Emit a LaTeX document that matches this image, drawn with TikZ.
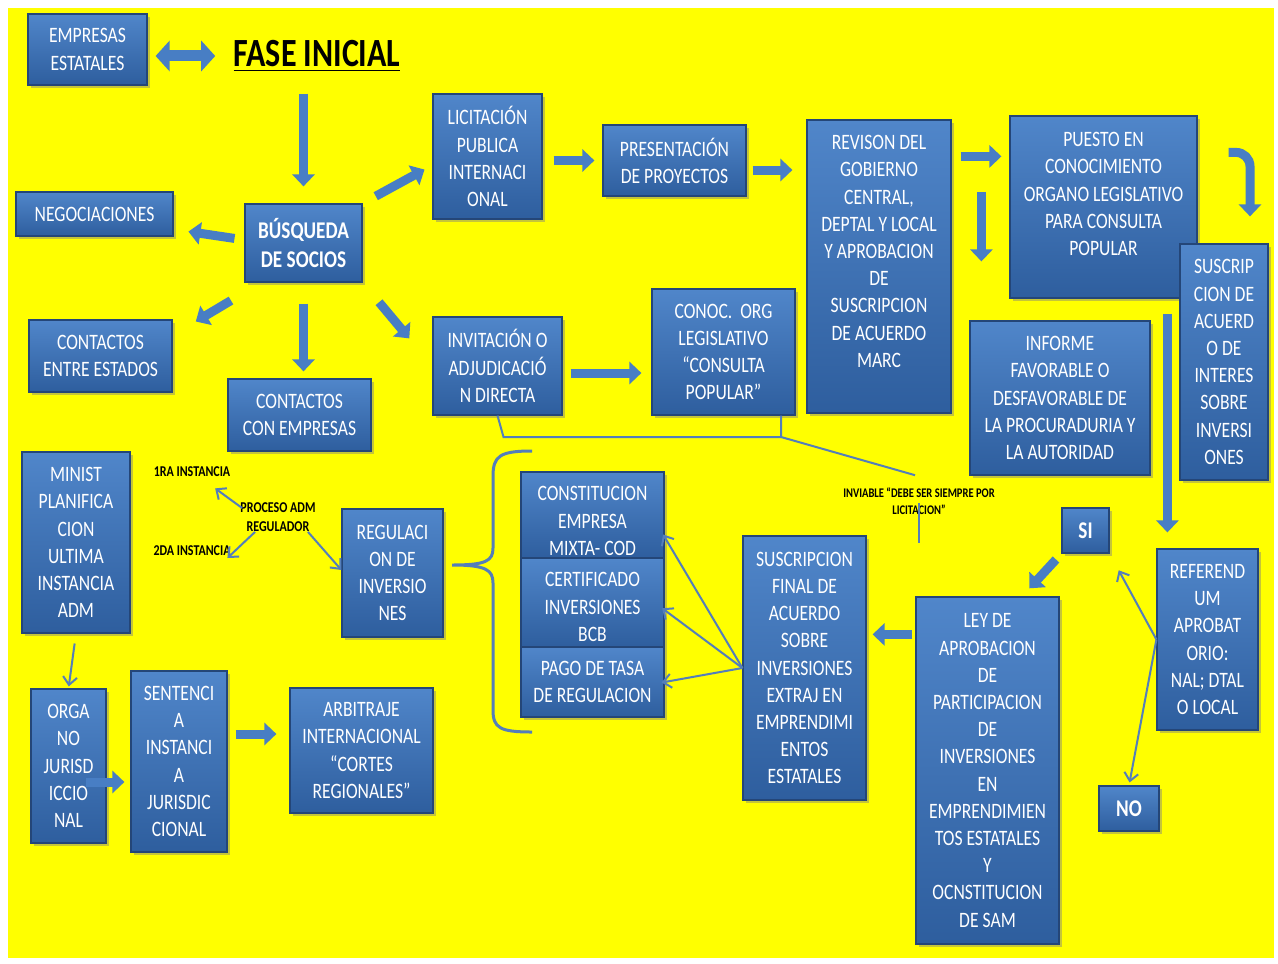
\documentclass[tikz,border=0pt]{standalone}
\usepackage{fontspec}
\setmainfont{Carlito}[FakeStretch=0.8]
\usepackage{xcolor}
\usepackage{tikz}
\usetikzlibrary{arrows.meta,shadows}

\definecolor{bgyellow}{RGB}{255,255,0}
\definecolor{boxtop}{RGB}{80,134,202}
\definecolor{boxbot}{RGB}{46,94,158}
\definecolor{boxedge}{RGB}{36,70,120}
\definecolor{arrowblue}{RGB}{72,126,196}
\definecolor{linkblue}{RGB}{84,126,186}

\newcommand{\boxfont}{\fontsize{11}{13.6}\selectfont}
\newcommand{\notefont}{\fontsize{7.5}{9.5}\selectfont\bfseries}

\begin{document}
\begin{tikzpicture}[x=0.5pt,y=-0.5pt,
  mybox/.style={draw=boxedge,line width=0.6pt,top color=boxtop,bottom color=boxbot,
    text=white,align=center,inner sep=0pt,font=\boxfont,
    drop shadow={opacity=0.45,shadow xshift=1.5pt,shadow yshift=-1.5pt}},
  boxtext/.style={text=white,align=center,inner sep=0pt,font=\boxfont},
  note/.style={text=black,align=center,inner sep=0pt,font=\notefont},
  bigarrow/.style={draw=arrowblue,line width=4.5pt,-{Triangle[length=6pt,width=11pt]}},
  thinarrow/.style={draw=linkblue,line width=1pt,-{Straight Barb[length=4pt,width=7pt]}},
  thinline/.style={draw=linkblue,line width=1pt}]

        %background
        \useasboundingbox (0,0) rectangle (1278,963);
        \fill[white] (0,0) rectangle (1278,963);
        \fill[bgyellow] (8,8) rectangle (1274,958);

        %title and first row
        \node[mybox,minimum width=59.5pt,minimum height=35.5pt] (emp) at (87.5,49.5) {EMPRESAS\\ESTATALES};
        \node[font=\fontsize{20}{24}\selectfont\bfseries,inner sep=0pt] (fase) at (317,56) {\underline{FASE INICIAL}};
        \node[mybox,font=\fontsize{12}{14.5}\selectfont\bfseries,minimum width=58.5pt,minimum height=39pt] (busq) at (303.5,243) {BÚSQUEDA\\DE SOCIOS};
        \node[mybox,minimum width=78.5pt,minimum height=22pt] (neg) at (94.5,214) {NEGOCIACIONES};
        \node[mybox,minimum width=71.5pt,minimum height=36pt] (ent) at (100.5,356) {CONTACTOS\\ENTRE ESTADOS};
        \node[mybox,minimum width=71.5pt,minimum height=36pt] (conemp) at (299.5,415) {CONTACTOS\\CON EMPRESAS};

        %licitacion branch
        \node[mybox,minimum width=54.5pt,minimum height=62.5pt] (lic) at (487.5,156.5) {LICITACIÓN\\PUBLICA\\INTERNACI\\ONAL};
        \node[mybox,minimum width=71.5pt,minimum height=35.5pt] (pres) at (674.5,160.5) {PRESENTACIÓN\\DE PROYECTOS};
        \node[mybox,minimum width=72pt,minimum height=146.5pt] (rev) at (879,266.5) {};
        \node[boxtext] (revtxt) at (879,251.5) {REVISON DEL\\GOBIERNO\\CENTRAL,\\DEPTAL Y LOCAL\\Y APROBACION\\DE\\SUSCRIPCION\\DE ACUERDO\\MARC};
        \node[mybox,minimum width=93.5pt,minimum height=91pt] (pue) at (1103.5,207) {};
        \node[boxtext] (puetxt) at (1103.5,194) {PUESTO EN\\CONOCIMIENTO\\ORGANO LEGISLATIVO\\PARA CONSULTA\\POPULAR};
        \node[mybox,minimum width=44pt,minimum height=118pt] (sus) at (1224,362) {SUSCRIP\\CION DE\\ACUERD\\O DE\\INTERES\\SOBRE\\INVERSI\\ONES};
        \node[mybox,minimum width=90pt,minimum height=77pt] (inf) at (1060,398) {INFORME\\FAVORABLE O\\DESFAVORABLE DE\\LA PROCURADURIA Y\\LA AUTORIDAD};

        %invitacion branch
        \node[mybox,minimum width=64.5pt,minimum height=49pt] (inv) at (497.5,366) {INVITACIÓN O\\ADJUDICACIÓ\\N DIRECTA};
        \node[mybox,minimum width=71.5pt,minimum height=63pt] (con) at (723.5,352) {CONOC.~~ORG\\LEGISLATIVO\\“CONSULTA\\POPULAR”};

        %referendum
        \node[mybox,minimum width=50.5pt,minimum height=90.5pt] (ref) at (1207.5,639.5) {REFEREND\\UM\\APROBAT\\ORIO:\\NAL; DTAL\\O LOCAL};
        \node[mybox,font=\fontsize{12}{14.5}\selectfont\bfseries,minimum width=23.5pt,minimum height=22.5pt] (si) at (1085.5,530.5) {SI};
        \node[mybox,font=\fontsize{12}{14.5}\selectfont\bfseries,minimum width=30pt,minimum height=22.5pt] (no) at (1129,808.5) {NO};
        \node[mybox,minimum width=71.5pt,minimum height=173.5pt] (ley) at (987.5,770.5) {LEY DE\\APROBACION\\DE\\PARTICIPACION\\DE\\INVERSIONES\\EN\\EMPRENDIMIEN\\TOS ESTATALES\\Y\\OCNSTITUCION\\DE SAM};
        \node[mybox,minimum width=61.5pt,minimum height=132pt] (fin) at (804.5,668) {SUSCRIPCION\\FINAL DE\\ACUERDO\\SOBRE\\INVERSIONES\\EXTRAJ EN\\EMPRENDIMI\\ENTOS\\ESTATALES};

        %stack
        \node[mybox,minimum width=71.5pt,minimum height=43pt] (cons) at (592.5,515) {};
        \node[boxtext] (constxt) at (592.5,521) {CONSTITUCION\\EMPRESA\\MIXTA- COD};
        \node[mybox,minimum width=71.5pt,minimum height=44.5pt] (cert) at (592.5,602.5) {};
        \node[boxtext] (certtxt) at (592.5,607) {CERTIFICADO\\INVERSIONES\\BCB};
        \node[mybox,minimum width=71.5pt,minimum height=35pt] (pago) at (592.5,682) {PAGO DE TASA\\DE REGULACION};
        \node[mybox,minimum width=50.5pt,minimum height=64pt] (reg) at (392.5,573) {REGULACI\\ON DE\\INVERSIO\\NES};

        %lower left
        \node[mybox,minimum width=54pt,minimum height=90.5pt] (min) at (76,542.5) {MINIST\\PLANIFICA\\CION\\ULTIMA\\INSTANCIA\\ADM};
        \node[mybox,minimum width=37.5pt,minimum height=77pt] (org) at (68.5,766) {ORGA\\NO\\JURISD\\ICCIO\\NAL};
        \node[mybox,minimum width=48pt,minimum height=90.5pt] (sen) at (179,761.5) {SENTENCI\\A\\INSTANCI\\A\\JURISDIC\\CIONAL};
        \node[mybox,minimum width=71.5pt,minimum height=62.5pt] (arb) at (361.5,750.5) {ARBITRAJE\\INTERNACIONAL\\“CORTES\\REGIONALES”};

        %notes
        \node[note] (ins1) at (192,472) {1RA INSTANCIA};
        \node[note] (ins2) at (192,551) {2DA INSTANCIA};
        \node[note] (proc) at (278,517) {PROCESO ADM\\REGULADOR};
        \node[note,font=\fontsize{6.6}{8.5}\selectfont\bfseries] (via) at (919,501) {INVIABLE “DEBE SER SIEMPRE POR\\LICITACION”};

        %block arrows
        \draw[bigarrow,line width=5.5pt,{Triangle[length=7pt,width=15pt]}-{Triangle[length=7pt,width=15pt]},shorten <=4pt,shorten >=9pt] (emp.east |- fase.west) -- (fase.west);
        \draw[bigarrow,shorten <=11pt,shorten >=8.5pt] (busq.north |- fase.south) -- (busq.north);
        \draw[bigarrow,shorten <=5pt,shorten >=7.5pt] (busq.177) -- (neg.-11);
        \draw[bigarrow,shorten <=7.5pt,shorten >=4.5pt] (busq.north east) -- (lic.189);
        \draw[bigarrow,shorten <=17.5pt,shorten >=13.5pt] (busq.223) -- (ent.16);
        \draw[bigarrow,shorten <=10.5pt,shorten >=3.5pt] (busq.south) -- (busq.south |- conemp.north);
        \draw[bigarrow,shorten <=12.8pt,shorten >=18pt] (busq.south east) -- (inv.west);
        \draw[bigarrow,shorten <=5.5pt,shorten >=4pt] (lic.east |- pres.west) -- (pres.west);
        \draw[bigarrow,shorten <=3pt,shorten >=7pt] ([yshift=-4.75pt]pres.east) -- ([yshift=-4.75pt]pres.east -| rev.west);
        \draw[bigarrow,shorten <=4.5pt,shorten >=4pt] ([yshift=-18.5pt]rev.north east) -- ([yshift=-18.5pt]rev.north east -| pue.west);
        \draw[bigarrow,shorten >=29.5pt] ([xshift=6pt,yshift=64pt]inf.north west) -- ([xshift=6pt]inf.north west);
        \draw[bigarrow,rounded corners=7pt,shorten >=13.5pt] ([xshift=15.5pt,yshift=-18.5pt]pue.north east) -| ([xshift=13pt]sus.north);
        \draw[bigarrow,shorten <=7.5pt,shorten >=8pt] ([xshift=5.5pt]ref.north west |- pue.south) -- ([xshift=5.5pt]ref.north west);
        \draw[bigarrow,shorten <=4pt,shorten >=5.5pt] (si.south west) -- ([xshift=17.25pt]ley.north);
        \draw[bigarrow,shorten <=1.5pt,shorten >=3pt] ([yshift=-19pt]ley.north west) -- ([yshift=-19pt]ley.north west -| fin.east);
        \draw[bigarrow,shorten <=4pt,shorten >=5pt] ([yshift=-3.5pt]inv.east) -- ([yshift=-3.5pt]inv.east -| con.west);
        \draw[bigarrow,shorten <=-10.5pt,shorten >=3pt] ([yshift=-8pt]org.east) -- ([yshift=-8pt]org.east -| sen.west);
        \draw[bigarrow,shorten <=4pt,shorten >=6.5pt] ([yshift=13.75pt]sen.east) -- ([yshift=13.75pt]sen.east -| arb.west);

        %thin arrows
        \draw[thinarrow,shorten >=9.5pt] (ref.west) -- (si.south east);
        \draw[thinarrow,shorten >=1.5pt] (ref.west) -- (no.north);
        \draw[thinarrow,shorten >=-1.5pt] (fin.west) -- (cons.-17);
        \draw[thinarrow,shorten >=-1.5pt] (fin.west) -- (cert.-6);
        \draw[thinarrow,shorten >=-1.5pt] (fin.west) -- (pago.east);
        \draw[thinarrow,shorten <=5pt,shorten >=1pt] (min.south) -- (org.north);
        \draw[thinarrow] ([xshift=1pt,yshift=4.5pt]proc.west) -- ([xshift=-7.75pt,yshift=-5.5pt]ins1.south east);
        \draw[thinarrow] ([xshift=7.5pt]proc.south west) -- ([xshift=-1.75pt,yshift=-3.5pt]ins2.east);
        \draw[thinarrow] ([xshift=-4pt]proc.south east) -- ([yshift=1.5pt]reg.west);

        %inviable lines
        \coordinate (jn) at (781,437);
        \draw[thinline] (inv.south) -- ([xshift=3pt]inv.south |- jn) -- (jn);
        \draw[thinline] (jn |- con.south) -- (jn) -- ([xshift=-2pt,yshift=6pt]via.north);
        \draw[thinline] ([yshift=6pt]via.south) -- ([yshift=-14pt]via.south);

        %brace
        \draw[linkblue,line width=1.5pt] (532,451) .. controls (500,451) and (493,456) .. (493,476) -- (493,548) .. controls (493,561) and (486,565) .. (452,565) .. controls (486,565) and (493,570) .. (493,583) -- (493,710) .. controls (493,728) and (500,732) .. (532,732);
\end{tikzpicture}
\end{document}
